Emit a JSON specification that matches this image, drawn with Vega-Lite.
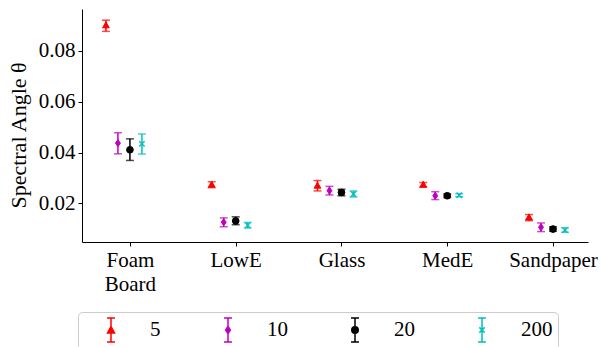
{
  "$schema": "https://vega.github.io/schema/vega-lite/v6.json",
  "width": 506,
  "height": 233,
  "autosize": "none",
  "padding": {"left": 82, "top": 9, "right": 14, "bottom": 105},
  "background": "white",
  "config": {
    "view": {"stroke": null},
    "font": "Liberation Serif",
    "axis": {
      "grid": false,
      "domainColor": "black",
      "domainWidth": 1,
      "tickColor": "black",
      "tickWidth": 1,
      "tickSize": 4,
      "labelFont": "Liberation Serif",
      "labelFontSize": 21,
      "labelColor": "black",
      "titleFont": "Liberation Serif",
      "titleFontSize": 22,
      "titleFontWeight": "normal",
      "titleColor": "black"
    }
  },
  "data": {
    "values": [
      {"material": "Foam Board", "series": "5", "mean": 0.0900, "lo": 0.0877, "hi": 0.0921},
      {"material": "Foam Board", "series": "10", "mean": 0.0437, "lo": 0.0395, "hi": 0.0478},
      {"material": "Foam Board", "series": "20", "mean": 0.0411, "lo": 0.0369, "hi": 0.0454},
      {"material": "Foam Board", "series": "200", "mean": 0.0434, "lo": 0.0394, "hi": 0.0473},
      {"material": "LowE", "series": "5", "mean": 0.0273, "lo": 0.0262, "hi": 0.0285},
      {"material": "LowE", "series": "10", "mean": 0.0126, "lo": 0.0108, "hi": 0.0143},
      {"material": "LowE", "series": "20", "mean": 0.0131, "lo": 0.0116, "hi": 0.0147},
      {"material": "LowE", "series": "200", "mean": 0.0114, "lo": 0.0103, "hi": 0.0125},
      {"material": "Glass", "series": "5", "mean": 0.0269, "lo": 0.0249, "hi": 0.0290},
      {"material": "Glass", "series": "10", "mean": 0.0250, "lo": 0.0233, "hi": 0.0267},
      {"material": "Glass", "series": "20", "mean": 0.0243, "lo": 0.0230, "hi": 0.0256},
      {"material": "Glass", "series": "200", "mean": 0.0237, "lo": 0.0225, "hi": 0.0249},
      {"material": "MedE", "series": "5", "mean": 0.0273, "lo": 0.0264, "hi": 0.0282},
      {"material": "MedE", "series": "10", "mean": 0.0230, "lo": 0.0215, "hi": 0.0246},
      {"material": "MedE", "series": "20", "mean": 0.0230, "lo": 0.0223, "hi": 0.0237},
      {"material": "MedE", "series": "200", "mean": 0.0232, "lo": 0.0226, "hi": 0.0238},
      {"material": "Sandpaper", "series": "5", "mean": 0.0144, "lo": 0.0132, "hi": 0.0156},
      {"material": "Sandpaper", "series": "10", "mean": 0.0106, "lo": 0.0089, "hi": 0.0123},
      {"material": "Sandpaper", "series": "20", "mean": 0.0099, "lo": 0.0090, "hi": 0.0108},
      {"material": "Sandpaper", "series": "200", "mean": 0.0095, "lo": 0.0086, "hi": 0.0104}
    ]
  },
  "encoding": {
    "x": {
      "field": "material",
      "type": "nominal",
      "sort": ["Foam Board", "LowE", "Glass", "MedE", "Sandpaper"],
      "scale": {"type": "point", "padding": 0.392, "align": 0.578},
      "axis": {
        "title": null,
        "labelAngle": 0,
        "labelPadding": 3,
        "labelBaseline": "top",
        "labelLineHeight": 24,
        "labelExpr": "datum.label == 'Foam Board' ? ['Foam', 'Board'] : datum.label"
      }
    },
    "xOffset": {
      "field": "series",
      "type": "nominal",
      "scale": {"type": "point", "padding": 0, "domain": ["5", "10", "20", "200"], "range": [-24, 12]}
    },
    "y": {
      "field": "mean",
      "type": "quantitative",
      "scale": {"domain": [0.0048, 0.0965], "nice": false, "zero": false},
      "axis": {
        "title": "Spectral Angle θ",
        "values": [0.02, 0.04, 0.06, 0.08],
        "format": ".2f",
        "labelPadding": 3,
        "titlePadding": 8,
        "titleY": 126
      }
    },
    "color": {
      "field": "series",
      "type": "nominal",
      "scale": {"domain": ["5", "10", "20", "200"], "range": ["#ff0000", "#bf00bf", "#000000", "#00bfbf"]},
      "legend": {
        "orient": "none",
        "legendX": -4,
        "legendY": 303,
        "direction": "horizontal",
        "title": null,
        "padding": 5,
        "strokeColor": "#cccccc",
        "fillColor": "white",
        "cornerRadius": 4,
        "symbolSize": 576,
        "symbolStrokeWidth": 1.5,
        "labelOffset": 41,
        "columnPadding": 39,
        "labelFont": "Liberation Serif",
        "labelFontSize": 21,
        "labelColor": "black",
        "labelBaseline": "middle",
        "encode": {
          "symbols": {
            "update": {
              "shape": {"signal": "datum.value == '5' ? 'M0.92,-1H1.58M1.25,-1V1M0.92,1H1.58M0.96,0.25L1.25,-0.3L1.54,0.25Z' : datum.value == '10' ? 'M0.92,-1H1.58M1.25,-1V1M0.92,1H1.58M1.25,-0.3L1.45,0L1.25,0.3L1.05,0Z' : datum.value == '20' ? 'M0.92,-1H1.58M1.25,-1V1M0.92,1H1.58M0.98,0A0.27,0.27 0 1,0 1.52,0A0.27,0.27 0 1,0 0.98,0Z' : 'M0.92,-1H1.58M1.25,-1V1M0.92,1H1.58M1.03,-0.22L1.47,0.22M1.03,0.22L1.47,-0.22'"},
              "fill": {"signal": "scale('color', datum.value)"},
              "stroke": {"signal": "scale('color', datum.value)"},
              "strokeWidth": {"value": 1.5},
              "opacity": {"value": 1}
            }
          }
        }
      }
    }
  },
  "layer": [
    {
      "mark": {"type": "rule", "strokeWidth": 1.5},
      "encoding": {
        "y": {"field": "lo", "type": "quantitative"},
        "y2": {"field": "hi"}
      }
    },
    {
      "mark": {"type": "tick", "thickness": 1.5, "size": 8, "orient": "horizontal"},
      "encoding": {
        "y": {"field": "lo", "type": "quantitative"}
      }
    },
    {
      "mark": {"type": "tick", "thickness": 1.5, "size": 8, "orient": "horizontal"},
      "encoding": {
        "y": {"field": "hi", "type": "quantitative"}
      }
    },
    {
      "transform": [{"filter": "datum.series == '5'"}],
      "mark": {"type": "point", "filled": true, "size": 45, "opacity": 1, "shape": "M0,-1.1L1,0.7L-1,0.7Z", "stroke": "#ff0000", "strokeWidth": 1}
    },
    {
      "transform": [{"filter": "datum.series == '10'"}],
      "mark": {"type": "point", "filled": true, "size": 50, "opacity": 1, "shape": "M0,-1L0.7,0L0,1L-0.7,0Z", "stroke": "#bf00bf", "strokeWidth": 1}
    },
    {
      "transform": [{"filter": "datum.series == '20'"}],
      "mark": {"type": "point", "filled": true, "size": 45, "opacity": 1, "shape": "circle", "stroke": "#000000", "strokeWidth": 1}
    },
    {
      "transform": [{"filter": "datum.series == '200'"}],
      "mark": {"type": "point", "filled": true, "size": 45, "opacity": 1, "shape": "M-0.8,-0.8L0.8,0.8M-0.8,0.8L0.8,-0.8", "stroke": "#00bfbf", "strokeWidth": 1.4}
    }
  ]
}
